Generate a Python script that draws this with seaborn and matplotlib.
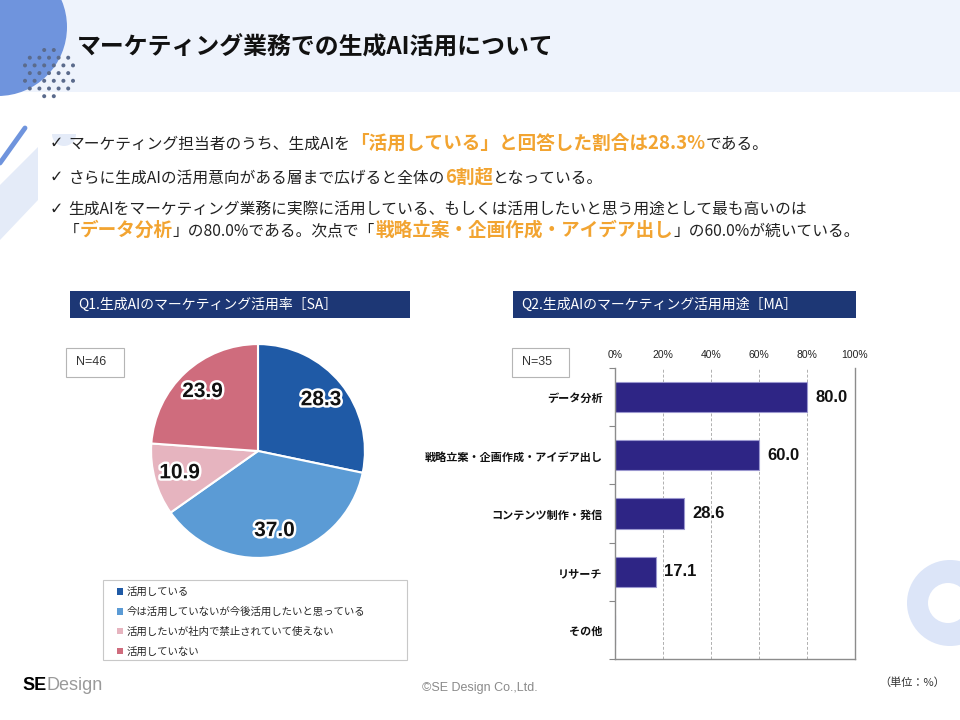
import numpy as np
import matplotlib
matplotlib.use("Agg")
import matplotlib.pyplot as plt
import seaborn as sns
from matplotlib.patches import Rectangle, Circle, Wedge, Polygon, Patch
from matplotlib.offsetbox import TextArea, HPacker, AnnotationBbox
import matplotlib.patheffects as pe

W, H = 960, 720
JP = ['Noto Sans CJK JP', 'DejaVu Sans']
AR = ['Liberation Sans', 'DejaVu Sans']

# --- data -------------------------------------------------------------
pie_labels = ['活用している',
              '今は活用していないが今後活用したいと思っている',
              '活用したいが社内で禁止されていて使えない',
              '活用していない']
pie_values = [28.3, 37.0, 10.9, 23.9]
pie_colors = ['#1f5aa6', '#5b9bd5', '#e6b4bf', '#cf6c7d']

use_categories = ['データ分析', '戦略立案・企画作成・アイデア出し',
                  'コンテンツ制作・発信', 'リサーチ', 'その他']
use_values = [80.0, 60.0, 28.6, 17.1, 0.0]
x_ticks = [0, 20, 40, 60, 80, 100]
x_tick_labels = ['0%', '20%', '40%', '60%', '80%', '100%']

title = 'マーケティング業務での生成AI活用について'
q1_title = 'Q1.生成AIのマーケティング活用率［SA］'
q2_title = 'Q2.生成AIのマーケティング活用用途［MA］'
n_q1 = 'N=46'
n_q2 = 'N=35'

# bullet lines: (text, style)  style: 'c' check mark, 'n' normal, 'h' highlight
bullets = [
    [('✓ ', 'c'), ('マーケティング担当者のうち、生成AIを', 'n'),
     ('「活用している」と回答した割合は28.3%', 'h'),
     ('である。', 'n')],
    [('✓ ', 'c'), ('さらに生成AIの活用意向がある層まで広げると全体の', 'n'),
     ('6割超', 'h'),
     ('となっている。', 'n')],
    [('✓ ', 'c'), ('生成AIをマーケティング業務に実際に活用している、もしくは活用したいと思う用途として最も高いのは', 'n')],
    [('「', 'n'), ('データ分析', 'h'), ('」の80.0%である。次点で「', 'n'),
     ('戦略立案・企画作成・アイデア出し', 'h'), ('」の60.0%が続いている。', 'n')],
]
bullet_pos = [(50, 143), (50, 177), (50, 210), (64, 230)]

ORANGE = '#f2a431'
NAVY = '#1d3775'
BAR = '#2e2585'

sns.set_theme(style='white')
plt.rcParams['font.family'] = JP

fig = plt.figure(figsize=(9.6, 7.2), dpi=100)
fig.patch.set_facecolor('white')


def fig_rect(x0, y0, x1, y1):
    return [x0 / W, 1 - y1 / H, (x1 - x0) / W, (y1 - y0) / H]


# background / decoration layer in pixel coordinates
bg = fig.add_axes([0, 0, 1, 1], zorder=-1)
bg.set_xlim(0, W)
bg.set_ylim(H, 0)
bg.axis('off')

bg.add_patch(Rectangle((0, 0), W, 92, fc='#eef3fc', ec='none'))
bg.add_patch(Circle((-2, 27), 69, fc='#6f94dd', ec='none'))
# dotted pattern
for r, yy in enumerate(np.arange(50, 100, 7.7)):
    off = 0 if r % 2 == 0 else 4.8
    for xx in np.arange(25 + off, 75, 9.6):
        if (xx - 49) ** 2 + (yy - 74) ** 2 <= 26 ** 2:
            bg.add_patch(Circle((xx, yy), 2.0, fc='#5b6b8c', ec='none'))

bg.add_patch(Polygon([(0, 185), (38, 147), (38, 200), (0, 240)], closed=True,
                     fc='#e4ebf8', ec='none'))
bg.plot([0, 25], [163, 128], color='#6f94dd', lw=3.5, solid_capstyle='round')
bg.add_patch(Wedge((64, 134), 12, 0, 180, fc='#e4ebf8', ec='none'))
bg.add_patch(Circle((950, 603), 43, fc='#dce5f8', ec='none'))
bg.add_patch(Circle((948, 603), 20, fc='white', ec='none'))

bg.text(77, 48, title, fontsize=17.2, fontweight='bold', color='#111111',
        va='center', ha='left')

# bullet text with mixed styles
styles = {
    'c': dict(color='#222222', fontsize=11.5, family=['DejaVu Sans']),
    'n': dict(color='#222222', fontsize=11.3, family=JP),
    'h': dict(color=ORANGE, fontsize=13.4, fontweight='bold', family=JP),
}
for segs, (bx, by) in zip(bullets, bullet_pos):
    parts = [TextArea(txt, textprops=styles[st]) for txt, st in segs]
    box = HPacker(children=parts, align='baseline', pad=0, sep=0)
    bg.add_artist(AnnotationBbox(box, (bx, by), box_alignment=(0, 0.5),
                                 frameon=False, pad=0))

# section headers
for (x0, x1), label in [((70, 410), q1_title), ((513, 856), q2_title)]:
    bg.add_patch(Rectangle((x0, 291), x1 - x0, 27, fc=NAVY, ec='none'))
    bg.text(x0 + 8, 305, label, color='white', fontsize=10, va='center')

# N boxes
for (x0, x1), label in [((66, 124), n_q1), ((512, 569), n_q2)]:
    bg.add_patch(Rectangle((x0, 348), x1 - x0, 29, fc='white', ec='#b5b5b5', lw=0.8))
    bg.text(x0 + 10, 362, label, fontsize=9, va='center', family=AR, color='#333333')

# legend frame
bg.add_patch(Rectangle((103, 580), 304, 80, fc='white', ec='#c8c8c8', lw=0.8))

# footer
logo = HPacker(children=[
    TextArea('SE', textprops=dict(color='black', fontsize=13, fontweight='bold', family=AR)),
    TextArea('Design', textprops=dict(color='#9a9a9a', fontsize=13, family=AR))],
    align='baseline', pad=0, sep=0)
bg.add_artist(AnnotationBbox(logo, (22, 686), box_alignment=(0, 0.5), frameon=False, pad=0))
bg.text(480, 688, '©SE Design Co.,Ltd.', fontsize=9, color='#8a8a8a',
        ha='center', va='center', family=AR)
bg.text(912, 683, '（単位：%）', fontsize=8, color='#333333', ha='center', va='center')

# --- pie chart ---------------------------------------------------------
ax1 = fig.add_axes(fig_rect(150, 343, 366, 559))
wedges, _, autotexts = ax1.pie(
    pie_values, colors=pie_colors, startangle=90, counterclock=False,
    autopct='%.1f', pctdistance=0.76,
    wedgeprops=dict(edgecolor='white', linewidth=1.5),
    textprops=dict(fontsize=15, fontweight='bold', color='#111111', family=AR))
for t in autotexts:
    t.set_path_effects([pe.withStroke(linewidth=3.5, foreground='white')])
ax1.set_xlim(-1.01, 1.01)
ax1.set_ylim(-1.01, 1.01)

handles = [Patch(facecolor=c, edgecolor='none') for c in pie_colors]
fig.legend(handles, pie_labels, loc='upper left',
           bbox_to_anchor=(112 / W, 1 - 582 / H), frameon=False,
           handlelength=0.55, handleheight=0.55,
           handletextpad=0.35, labelspacing=0.92, borderpad=0,
           prop=dict(family=JP, size=7.5))

# --- bar chart ---------------------------------------------------------
ax2 = fig.add_axes(fig_rect(615, 368, 855, 659))
sns.barplot(x=use_values, y=use_categories, orient='h', color=BAR, saturation=1,
            width=0.52, edgecolor='#9b97cf', linewidth=0.8, ax=ax2)
ax2.set_xlim(0, 100)
ax2.set_ylim(len(use_categories) - 0.5, -0.5)
ax2.set_xticks(x_ticks)
ax2.set_xticklabels(x_tick_labels, family=AR, fontsize=7.5, color='#222222')
ax2.xaxis.tick_top()
ax2.tick_params(axis='x', length=0, pad=6)
ax2.set_yticks(range(len(use_categories)))
ax2.set_yticklabels(use_categories, fontsize=8, fontweight='bold', color='#111111')
ax2.tick_params(axis='y', which='major', length=0, pad=9)
ax2.set_yticks(np.arange(-0.5, len(use_categories), 1.0), minor=True)
ax2.tick_params(axis='y', which='minor', length=4, color='#888888', width=0.8, left=True)
ax2.set_xlabel('')
ax2.set_ylabel('')
ax2.xaxis.grid(True, linestyle=(0, (3, 2)), color='#b0b0b0', lw=0.7)
ax2.set_axisbelow(True)
for side in ['left', 'right', 'bottom']:
    ax2.spines[side].set_visible(True)
    ax2.spines[side].set_color('#8c8c8c')
    ax2.spines[side].set_linewidth(1.0)
ax2.spines['top'].set_visible(False)

bar_labels = [f'{v:.1f}' if v > 0 else '' for v in use_values]
ax2.bar_label(ax2.containers[0], labels=bar_labels, padding=6,
              fontsize=12, fontweight='bold', color='#111111', family=AR)

fig.savefig('out.png', dpi=100)
